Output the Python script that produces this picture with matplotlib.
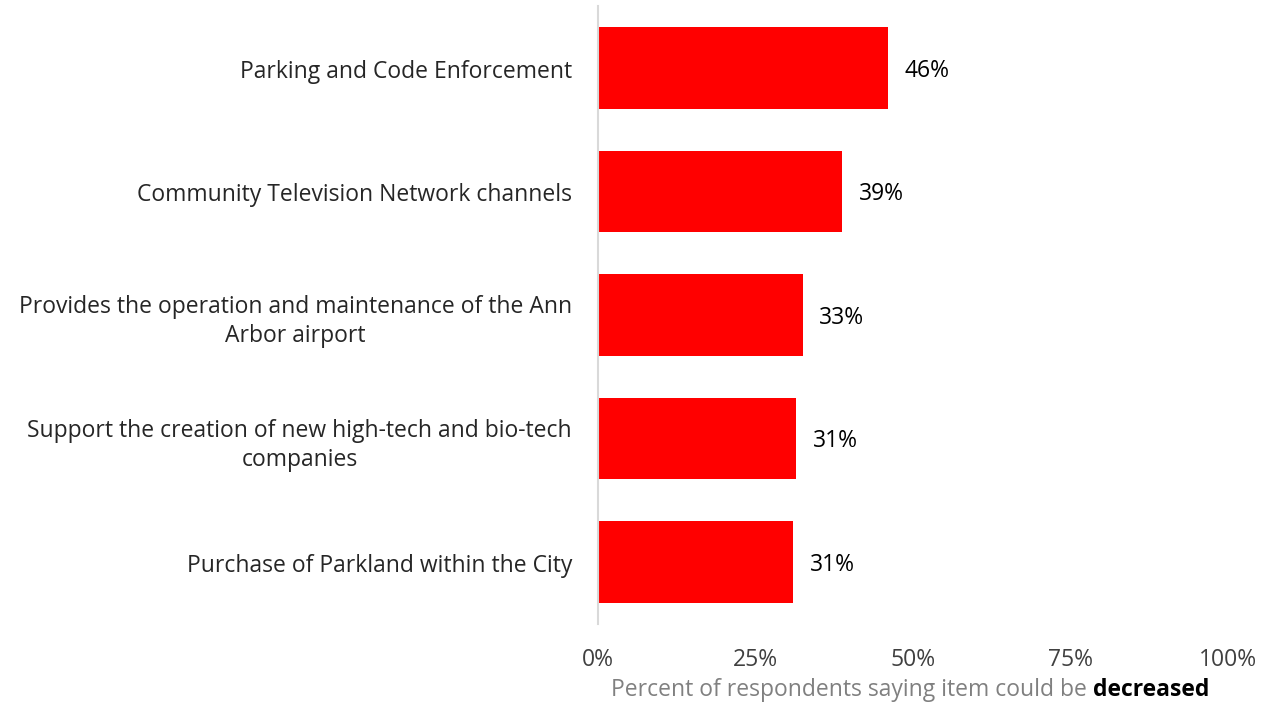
import numpy as np
import matplotlib.pyplot as plt
import matplotlib.transforms as mtransforms

# data (top to bottom)
categories = [
    "Parking and Code Enforcement",
    "Community Television Network channels",
    "Provides the operation and maintenance of the Ann\nArbor airport",
    "Support the creation of new high-tech and bio-tech\ncompanies",
    "Purchase of Parkland within the City",
]
values = [46.0, 38.8, 32.5, 31.4, 31.0]
value_labels = ["46%", "39%", "33%", "31%", "31%"]
xticks = [0, 25, 50, 75, 100]
xtick_labels = ["0%", "25%", "50%", "75%", "100%"]

plt.rcParams['font.family'] = ['Open Sans', 'DejaVu Sans']
FS = 16.5

fig = plt.figure(figsize=(12.66, 7.02), dpi=100)
ax = fig.add_axes([598 / 1266, 1 - 624 / 702, 630 / 1266, 618 / 702])

y = np.arange(len(categories))
ax.barh(y, values, height=0.66, color="#ff0000")
ax.set_ylim(len(categories) - 0.5, -0.5)
ax.set_xlim(0, 100)

for yi, v, lab in zip(y, values, value_labels):
    ax.annotate(lab, (v, yi), xytext=(12, -2), textcoords="offset points",
                va="center", ha="left", fontsize=FS, color="black")

ax.set_yticks(y)
ax.set_yticklabels(categories, fontsize=FS, color="#262626", ha="center",
                   multialignment="center", linespacing=1.3)
ax.tick_params(axis="y", length=0, pad=0)
ax.set_xticks(xticks)
ax.set_xticklabels(xtick_labels, fontsize=FS, color="#404040")
ax.tick_params(axis="x", length=0, pad=17)

for s in ["top", "right", "bottom"]:
    ax.spines[s].set_visible(False)
ax.spines["left"].set_color("#d9d9d9")
ax.spines["left"].set_linewidth(1.5)

# center the y tick labels (right edge near x=572)
renderer = fig.canvas.get_renderer()
for t in ax.get_yticklabels():
    w = t.get_window_extent(renderer).width
    t.set_x(0)
    t.set_transform(ax.get_yaxis_transform() + mtransforms.ScaledTranslation(
        -(26 + w / 2) / 100, -1 / 100, fig.dpi_scale_trans))

# x axis label: gray text followed by bold word
part1 = fig.text(0, 0, "Percent of respondents saying item could be ", fontsize=FS,
                 color="#808080", ha="left", va="baseline")
part2 = fig.text(0, 0, "decreased", fontsize=FS, color="black",
                 fontweight="bold", ha="left", va="baseline")
w1 = part1.get_window_extent(renderer).width
w2 = part2.get_window_extent(renderer).width
cx = 910
x0 = cx - (w1 + w2) / 2
ybase = 1 - 696 / 702
part1.set_position((x0 / 1266, ybase))
part2.set_position(((x0 + w1) / 1266, ybase))

fig.savefig("out.png", dpi=100)
